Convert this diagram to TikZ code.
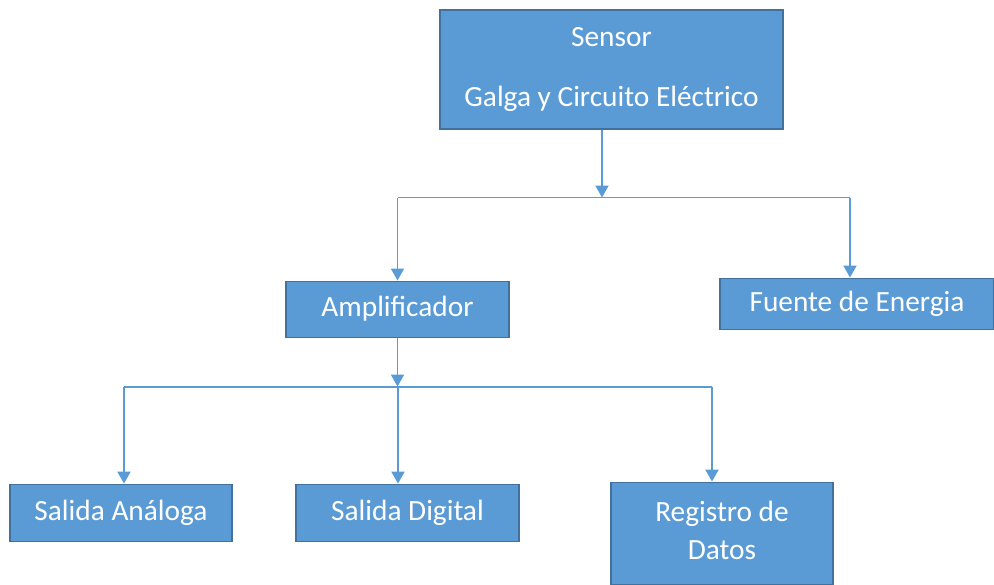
\documentclass[tikz,border=0pt]{standalone}
\usepackage{fontspec}
\setmainfont{Carlito}
\usetikzlibrary{arrows.meta, positioning}
\definecolor{boxfill}{HTML}{5B9BD5}
\definecolor{boxline}{HTML}{41719C}

\begin{document}
\begin{tikzpicture}[
    box/.style={rectangle, draw=boxline, fill=boxfill, line width=0.6pt, text=white, align=center, inner sep=0pt, font=\fontsize{16.7}{21.6}\selectfont},
    arrow/.style={-{Triangle[width=0.26cm, length=0.24cm]}, draw=boxfill, line width=1.1pt},
    link/.style={draw=boxfill, line width=1.1pt}
]
\useasboundingbox (0,0) rectangle (19.88,-11.7);

% FILA 1 (sensor)
\node[box, minimum width=6.86cm, minimum height=2.38cm] (sensor) at (12.23,-1.39) {Sensor\\[12pt]Galga y Circuito Eléctrico};

% FILA 2
\node[box, minimum width=4.46cm, minimum height=1.12cm, below=3.02cm of sensor, xshift=-4.28cm] (amp) {Amplificador};
\node[box, minimum width=5.48cm, minimum height=1.02cm, below=2.96cm of sensor, xshift=4.91cm] (fuente) {Fuente de Energia};

% FILA 3 (salidas)
\node[box, minimum width=4.44cm, minimum height=1.14cm, below=2.92cm of amp, xshift=-5.53cm] (analoga) {Salida Análoga};
\node[box, minimum width=4.46cm, minimum height=1.14cm, below=2.92cm of amp, xshift=0.2cm] (digital) {Salida Digital};
\node[box, minimum width=4.44cm, minimum height=2.04cm, below=2.88cm of amp, xshift=6.49cm] (registro) {\raisebox{0.1cm}{Registro de}\\\raisebox{0.1cm}{Datos}};

% puntos de llegada
\coordinate (in_fuente) at ([xshift=-0.14cm]fuente.north);
\coordinate (in_analoga) at ([xshift=0.06cm]analoga.north);
\coordinate (in_digital) at ([xshift=-0.19cm]digital.north);
\coordinate (in_registro) at ([xshift=-0.2cm]registro.north);

% FLECHAS sensor -> fila 2
\coordinate[below=1.36cm of sensor.south, xshift=-0.19cm] (hub1);
\draw[arrow] (hub1 |- sensor.south) -- (hub1);
\draw[link] (hub1 -| amp.north) -- (hub1 -| in_fuente);
\draw[arrow] (hub1 -| amp.north) -- (amp.north);
\draw[arrow] (hub1 -| in_fuente) -- (in_fuente);

% FLECHAS amplificador -> salidas
\coordinate[below=0.98cm of amp.south] (hub2);
\draw[arrow] (amp.south) -- (hub2);
\draw[link] (hub2 -| in_analoga) -- (hub2 -| in_registro);
\draw[arrow] (hub2 -| in_analoga) -- (in_analoga);
\draw[arrow] (hub2 -| in_digital) -- (in_digital);
\draw[arrow] (hub2 -| in_registro) -- (in_registro);

\end{tikzpicture}
\end{document}
